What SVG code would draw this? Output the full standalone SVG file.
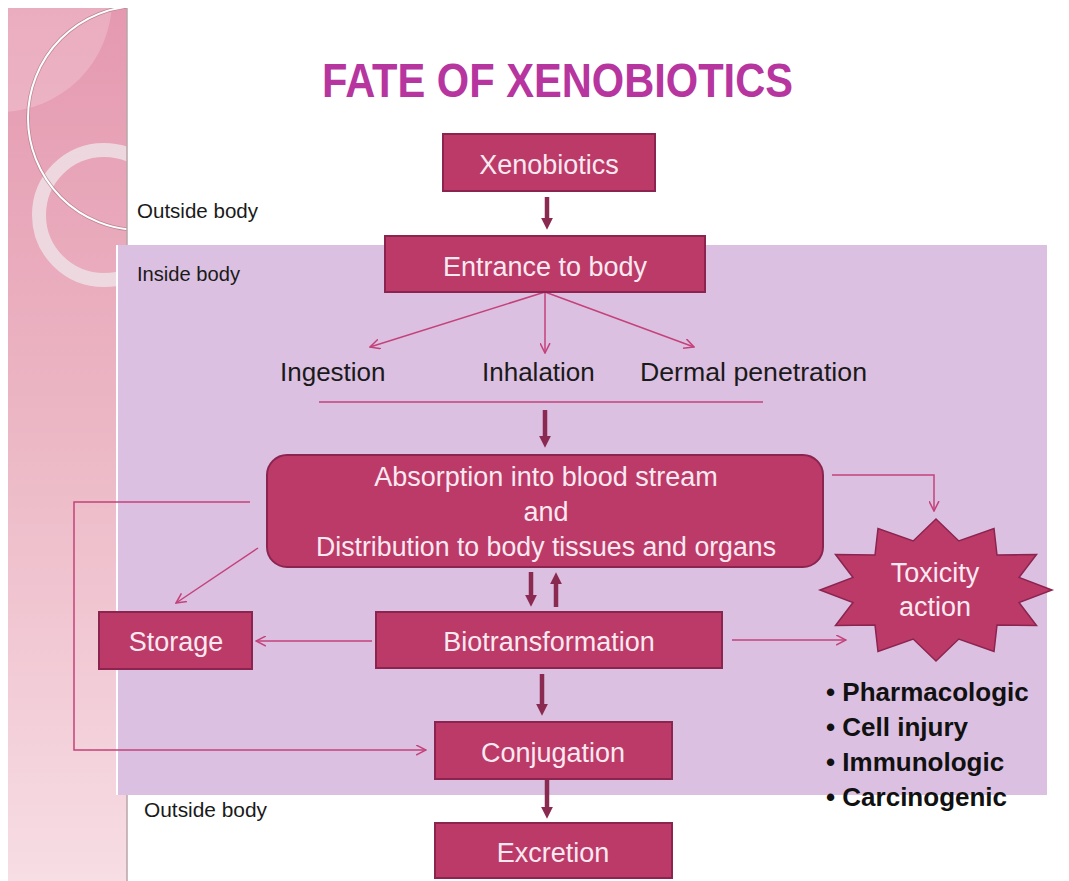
<svg xmlns="http://www.w3.org/2000/svg" width="1069" height="881" viewBox="0 0 1069 881">
<defs>
<linearGradient id="band" x1="0" y1="0" x2="0" y2="1">
<stop offset="0" stop-color="#e599b0"/>
<stop offset="0.5" stop-color="#ecb8c6"/>
<stop offset="1" stop-color="#f7dde4"/>
</linearGradient>
<clipPath id="bandClip"><rect x="8" y="8" width="119" height="873"/></clipPath>
<marker id="thick" viewBox="0 0 10 10" markerWidth="12" markerHeight="12" refX="1" refY="5" orient="auto" markerUnits="userSpaceOnUse">
<path d="M0,0 L10,5 L0,10 z" fill="#8b2a50"/>
</marker>
<marker id="thin" viewBox="0 0 10 10" markerWidth="11" markerHeight="11" refX="9" refY="5" orient="auto" markerUnits="userSpaceOnUse">
<path d="M0,0.5 L9,5 L0,9.5" fill="none" stroke="#c4427a" stroke-width="1.4"/>
</marker>
<style>
.box{fill:#bc3a68;stroke:#8c2450;stroke-width:2}
.lbl{font-family:"Liberation Sans",Arial,sans-serif;font-size:27px;fill:#fbe9f1;text-anchor:middle}
.plain{font-family:"Liberation Sans",Arial,sans-serif;font-size:26px;fill:#1a1a1a}
.small{font-family:"Liberation Sans",Arial,sans-serif;font-size:20px;fill:#1a1a1a}
.bul{font-family:"Liberation Sans",Arial,sans-serif;font-size:26px;font-weight:bold;fill:#111}
.thk{stroke:#8b2a50;stroke-width:4.5;fill:none;marker-end:url(#thick)}
.thn{stroke:#c4427a;stroke-width:1.5;fill:none}
.arr{marker-end:url(#thin)}
</style>
</defs>

<g id="background">
<rect x="0" y="0" width="1069" height="881" fill="#ffffff"/>
<rect x="8" y="8" width="119" height="873" fill="url(#band)"/>
<g clip-path="url(#bandClip)">
<circle cx="0" cy="0" r="112" fill="#ffffff" opacity="0.2"/>
<circle cx="104" cy="215" r="65" fill="none" stroke="#efe4e8" stroke-width="14" opacity="0.8"/>
<circle cx="140" cy="118" r="112" fill="none" stroke="#9c6a7a" stroke-width="3.5" opacity="0.6"/>
<circle cx="140" cy="118" r="112" fill="none" stroke="#ffffff" stroke-width="2"/>
</g>
<line x1="127" y1="8" x2="127" y2="881" stroke="#b9a4aa" stroke-width="1.5"/>
<rect x="117" y="245" width="930" height="550" fill="#dcc0e1"/>
<line x1="117" y1="245" x2="117" y2="795" stroke="#ffffff" stroke-width="2"/>
</g>

<g id="title">
<text x="557.5" y="97" font-family="'Liberation Sans',Arial,sans-serif" font-size="48" font-weight="bold" fill="#b7359f" text-anchor="middle" textLength="471" lengthAdjust="spacingAndGlyphs">FATE OF XENOBIOTICS</text>
</g>

<g id="region-labels">
<text class="small" x="137" y="218" textLength="121" lengthAdjust="spacingAndGlyphs">Outside body</text>
<text class="small" x="137" y="281" textLength="103" lengthAdjust="spacingAndGlyphs">Inside body</text>
<text class="small" x="144" y="817" textLength="123" lengthAdjust="spacingAndGlyphs">Outside body</text>
</g>

<g id="connectors">
<line class="thk" x1="547" y1="197" x2="547" y2="219"/>
<path class="thn arr" d="M545,292 L370,347"/>
<path class="thn arr" d="M545,292 V353"/>
<path class="thn arr" d="M545,292 L694,347"/>
<line class="thn" x1="319" y1="402" x2="763" y2="402"/>
<line class="thk" x1="545" y1="410" x2="545" y2="437"/>
<line class="thk" x1="531" y1="572" x2="531" y2="596"/>
<line class="thk" x1="556" y1="607" x2="556" y2="583"/>
<line class="thk" x1="542" y1="674" x2="542" y2="705"/>
<line class="thk" x1="547" y1="780" x2="547" y2="808"/>
<path class="thn arr" d="M832,475 H934 V511"/>
<path class="thn arr" d="M732,640 H846"/>
<path class="thn arr" d="M372,641 H256"/>
<path class="thn arr" d="M258,548 L176,603"/>
<path class="thn arr" d="M250,502 H74 V750 H426"/>
</g>

<g id="xenobiotics">
<rect class="box" x="443" y="134" width="212" height="57"/>
<text class="lbl" x="549" y="174">Xenobiotics</text>
</g>

<g id="entrance">
<rect class="box" x="385" y="236" width="320" height="56"/>
<text class="lbl" x="545" y="276">Entrance to body</text>
</g>

<g id="routes">
<text class="plain" x="280" y="381">Ingestion</text>
<text class="plain" x="482" y="381">Inhalation</text>
<text class="plain" x="640" y="381" textLength="227" lengthAdjust="spacingAndGlyphs">Dermal penetration</text>
</g>

<g id="absorption">
<rect class="box" x="267" y="455" width="556" height="112" rx="20" ry="20"/>
<text class="lbl" x="546" y="486">Absorption into blood stream</text>
<text class="lbl" x="546" y="521">and</text>
<text class="lbl" x="546" y="556" textLength="460" lengthAdjust="spacingAndGlyphs">Distribution to body tissues and organs</text>
</g>

<g id="storage">
<rect class="box" x="99" y="612" width="153" height="57"/>
<text class="lbl" x="176" y="651">Storage</text>
</g>

<g id="biotransformation">
<rect class="box" x="376" y="612" width="346" height="56"/>
<text class="lbl" x="549" y="651">Biotransformation</text>
</g>

<g id="toxicity">
<polygon fill="#bc3a68" stroke="#8c2450" stroke-width="1.5" points="936,519 958.8,541 994,528.5 997,555 1036.5,554.5 1019,577.5 1052,590 1019,602.5 1036.5,625.5 997,625 994,651.5 958.8,639 936,661 913.2,639 878,651.5 875,625 835.5,625.5 853,602.5 820,590 853,577.5 835.5,554.5 875,555 878,528.5 913.2,541"/>
<text class="lbl" x="935" y="582">Toxicity</text>
<text class="lbl" x="935" y="616">action</text>
</g>

<g id="effects">
<text class="bul" x="826" y="701">• Pharmacologic</text>
<text class="bul" x="826" y="736">• Cell injury</text>
<text class="bul" x="826" y="771">• Immunologic</text>
<text class="bul" x="826" y="806">• Carcinogenic</text>
</g>

<g id="conjugation">
<rect class="box" x="435" y="722" width="237" height="57"/>
<text class="lbl" x="553" y="762">Conjugation</text>
</g>

<g id="excretion">
<rect class="box" x="435" y="823" width="237" height="55"/>
<text class="lbl" x="553" y="862">Excretion</text>
</g>
</svg>
